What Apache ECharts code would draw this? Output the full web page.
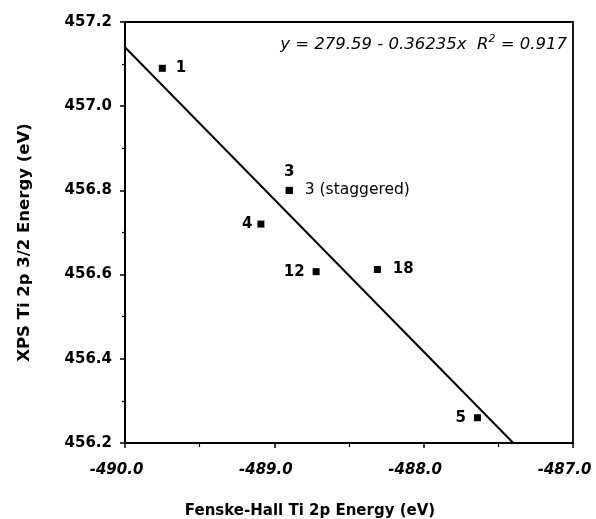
<!DOCTYPE html>
<html>
<head>
<meta charset="utf-8">
<script src="https://cdn.jsdelivr.net/npm/echarts@6/dist/echarts.min.js"></script>
<style>html,body{margin:0;padding:0;background:#fff}#c{width:596px;height:519px}</style>
</head>
<body>
<div id="c"></div>
<script>
// Data
var pointLabels = ['1', '3', '3 (staggered)', '4', '12', '18', '5'];
var xValues = [-489.75, -488.90, -488.90, -489.09, -488.72, -488.31, -487.64];
var yValues = [457.09, 456.80, 456.80, 456.72, 456.607, 456.612, 456.26];
var fitX = [-490.0, -487.40];
var fitY = [457.14, 456.20];
var xTicks = [-490, -489, -488, -487];
var yTicks = [456.2, 456.4, 456.6, 456.8, 457.0, 457.2];

// Label placement (style, not data)
var labelPlacement = {
  '1': {position: 'right', distance: 10},
  '3': {position: 'top', distance: 7},
  '3 (staggered)': {position: 'right', distance: 12},
  '4': {position: 'left', distance: 5},
  '12': {position: 'left', distance: 8},
  '18': {position: 'right', distance: 12},
  '5': {position: 'left', distance: 8}
};

var FONT = '"DejaVu Sans", Verdana, sans-serif';
var chart = echarts.init(document.getElementById('c'), null, {renderer: 'canvas'});

var scatterData = xValues.map(function (x, i) {
  var name = pointLabels[i];
  var bold = name !== '3 (staggered)';
  var p = labelPlacement[name];
  return {
    value: [x, yValues[i]],
    label: {
      show: true,
      formatter: name,
      position: p.position,
      distance: p.distance,
      fontFamily: FONT,
      fontWeight: bold ? 'bold' : 'normal',
      fontSize: bold ? 15 : 15.5,
      color: '#000'
    }
  };
});

chart.setOption({
  animation: false,
  backgroundColor: '#fff',
  grid: {left: 125, right: 23, top: 22, bottom: 76, containLabel: false, outerBoundsMode: 'none',
    show: true, borderColor: '#000', borderWidth: 1.8, backgroundColor: 'transparent'},
  xAxis: {
    type: 'value', min: xTicks[0], max: xTicks[xTicks.length - 1], interval: 1,
    name: 'Fenske-Hall Ti 2p Energy (eV)', nameLocation: 'middle', nameGap: 61,
    nameTextStyle: {fontFamily: FONT, fontWeight: 'bold', fontSize: 15, color: '#000', padding: [0, 78, 0, 0]},
    axisLine: {lineStyle: {color: '#000', width: 2}},
    axisTick: {show: true, inside: false, length: 5, lineStyle: {color: '#000', width: 1.5}},
    minorTick: {show: true, splitNumber: 2, length: 4, lineStyle: {color: '#000', width: 1.2}},
    splitLine: {show: false},
    axisLabel: {fontFamily: FONT, fontWeight: 'bold', fontStyle: 'italic', fontSize: 15, color: '#000', margin: 20,
      padding: [0, 17, 0, 0], hideOverlap: false, formatter: function (v) { return v.toFixed(1); }}
  },
  yAxis: {
    type: 'value', min: yTicks[0], max: yTicks[yTicks.length - 1], interval: 0.2,
    name: 'XPS Ti 2p 3/2 Energy (eV)', nameLocation: 'middle', nameGap: 92,
    nameTextStyle: {fontFamily: FONT, fontWeight: 'bold', fontSize: 16.5, color: '#000', padding: [0, 20, 0, 0]},
    axisLine: {lineStyle: {color: '#000', width: 2}},
    axisTick: {show: true, inside: false, length: 5, lineStyle: {color: '#000', width: 1.5}},
    minorTick: {show: true, splitNumber: 2, length: 3, lineStyle: {color: '#000', width: 1.2}},
    splitLine: {show: false},
    axisLabel: {fontFamily: FONT, fontWeight: 'bold', fontSize: 15, color: '#000', margin: 13,
      formatter: function (v) { return v.toFixed(1); }}
  },
  series: [
    {
      type: 'line',
      data: fitX.map(function (x, i) { return [x, fitY[i]]; }),
      showSymbol: false, symbol: 'none',
      lineStyle: {color: '#000', width: 2},
      z: 2
    },
    {
      type: 'scatter',
      data: scatterData,
      symbol: 'rect', symbolSize: 7,
      itemStyle: {color: '#000', opacity: 1},
      z: 3
    }
  ],
  graphic: [{
    type: 'text',
    right: 29, top: 34,
    style: {
      text: '{i|y = 279.59 - 0.36235x  R}{s|2}{i| = 0.917}',
      rich: {
        i: {fontFamily: FONT, fontStyle: 'italic', fontSize: 16.5, fill: '#000', verticalAlign: 'bottom'},
        s: {fontFamily: FONT, fontStyle: 'italic', fontSize: 11, fill: '#000', verticalAlign: 'top', padding: [0, 0, 8, 0]}
      }
    }
  }]
});
</script>
</body>
</html>
